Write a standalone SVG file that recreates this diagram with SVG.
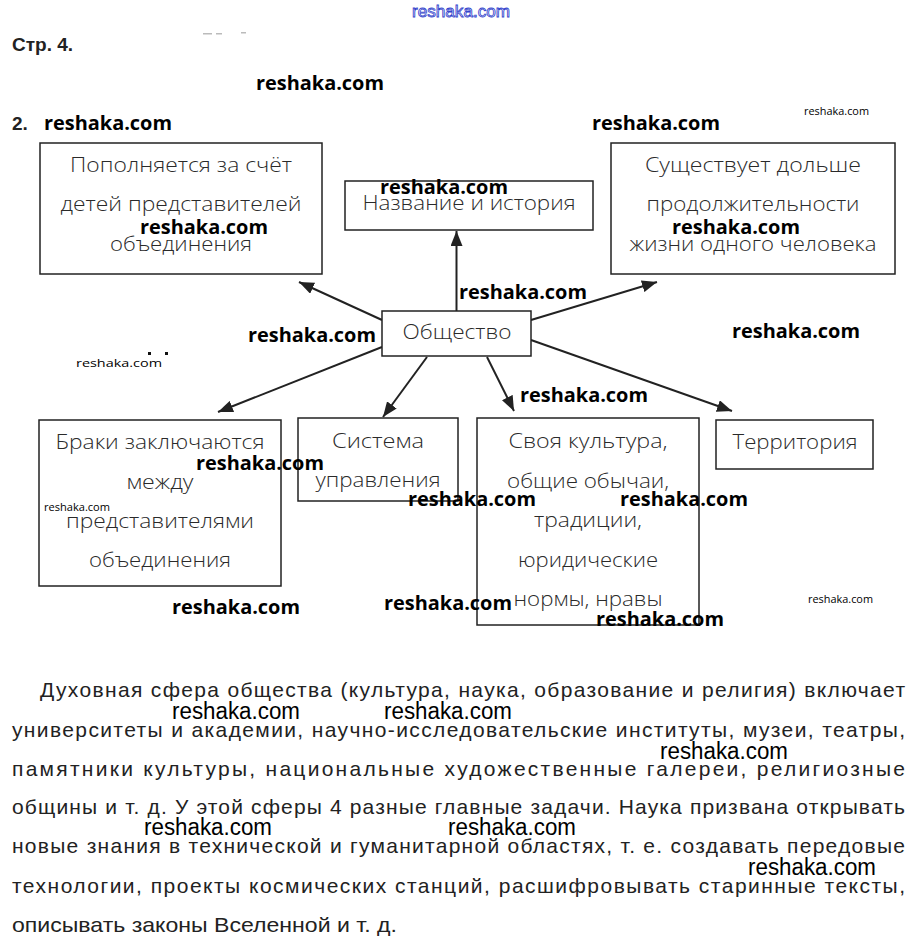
<svg xmlns="http://www.w3.org/2000/svg" width="920" height="952" viewBox="0 0 920 952">
<style>
.box{fill:#fff;stroke:#222;stroke-width:1.5}
.bt{font-family:"Open Sans","Noto Sans",sans-serif;font-weight:300;font-size:20px;fill:#2a2a2a;text-anchor:middle}
.wm{font-family:"Open Sans","Noto Sans",sans-serif;font-weight:700;font-size:20px;fill:#000}
.wms{font-family:"Open Sans","Noto Sans",sans-serif;font-weight:400;font-size:11px;fill:#000}
.wmp{font-family:"Liberation Sans",Arial,sans-serif;font-size:23px;fill:#000}
.p{font-family:"Liberation Sans",Arial,sans-serif;font-size:21px;fill:#222}
.h{font-family:"Liberation Sans",Arial,sans-serif;font-weight:700;font-size:19px;fill:#222}
.ln{stroke:#222;stroke-width:2;fill:none;marker-end:url(#ah)}
</style>
<defs>
<marker id="ah" markerUnits="userSpaceOnUse" markerWidth="16" markerHeight="12" refX="15" refY="6" orient="auto">
<path d="M0,0 L15,6 L0,12 z" fill="#222"/>
</marker>
</defs>
<rect width="920" height="952" fill="#fff"/>
<text x="412" y="17" font-family="Liberation Sans,Arial,sans-serif" font-size="16" fill="#fff" stroke="#3344cc" stroke-width="0.8" textLength="98" lengthAdjust="spacingAndGlyphs">reshaka.com</text>
<text class="h" x="12" y="51">Стр. 4.</text>
<text class="h" x="12" y="130">2.</text>
<g fill="#bbb">
<rect x="203" y="33" width="9" height="1.5"/>
<rect x="216" y="33" width="6" height="1.5"/>
<rect x="241" y="32" width="5" height="1.5"/>
</g>
<g fill="#111">
<rect x="148" y="352" width="3" height="3"/>
<rect x="165" y="352" width="3" height="3"/>
</g>

<g id="connectors">
<line class="ln" x1="382" y1="320" x2="299" y2="282"/>
<line class="ln" x1="456.5" y1="311" x2="456.5" y2="231"/>
<line class="ln" x1="531" y1="320" x2="657" y2="282"/>
<line class="ln" x1="382" y1="347" x2="218" y2="412"/>
<line class="ln" x1="427" y1="357" x2="383" y2="417"/>
<line class="ln" x1="487" y1="357" x2="514" y2="411"/>
<line class="ln" x1="531" y1="340" x2="732" y2="411"/>
</g>

<g id="node-popolnyaetsya">
<rect class="box" x="40" y="143" width="282" height="131"/>
<text class="bt" x="181" y="172" textLength="222" lengthAdjust="spacingAndGlyphs">Пополняется за счёт</text>
<text class="bt" x="181" y="211" textLength="241" lengthAdjust="spacingAndGlyphs">детей представителей</text>
<text class="bt" x="181" y="251" textLength="142" lengthAdjust="spacingAndGlyphs">объединения</text>
</g>
<g id="node-nazvanie">
<rect class="box" x="345" y="181" width="248" height="49"/>
<text class="bt" x="469" y="210" textLength="213" lengthAdjust="spacingAndGlyphs">Название и история</text>
</g>
<g id="node-sushchestvuet">
<rect class="box" x="611" y="143" width="284" height="131"/>
<text class="bt" x="753" y="172" textLength="216" lengthAdjust="spacingAndGlyphs">Существует дольше</text>
<text class="bt" x="753" y="211" textLength="213" lengthAdjust="spacingAndGlyphs">продолжительности</text>
<text class="bt" x="753" y="251" textLength="247" lengthAdjust="spacingAndGlyphs">жизни одного человека</text>
</g>
<g id="node-obshchestvo">
<rect class="box" x="382" y="311" width="149" height="45"/>
<text class="bt" x="457" y="339" textLength="109" lengthAdjust="spacingAndGlyphs">Общество</text>
</g>
<g id="node-braki">
<rect class="box" x="39" y="420" width="242" height="166"/>
<text class="bt" x="160" y="449" textLength="209" lengthAdjust="spacingAndGlyphs">Браки заключаются</text>
<text class="bt" x="160" y="489" textLength="67" lengthAdjust="spacingAndGlyphs">между</text>
<text class="bt" x="160" y="528" textLength="188" lengthAdjust="spacingAndGlyphs">представителями</text>
<text class="bt" x="160" y="567" textLength="142" lengthAdjust="spacingAndGlyphs">объединения</text>
</g>
<g id="node-sistema">
<rect class="box" x="298" y="418" width="160" height="83"/>
<text class="bt" x="378" y="448" textLength="92" lengthAdjust="spacingAndGlyphs">Система</text>
<text class="bt" x="378" y="487" textLength="125" lengthAdjust="spacingAndGlyphs">управления</text>
</g>
<g id="node-kultura">
<rect class="box" x="477" y="418" width="222" height="207"/>
<text class="bt" x="588" y="448" textLength="159" lengthAdjust="spacingAndGlyphs">Своя культура,</text>
<text class="bt" x="588" y="488" textLength="162" lengthAdjust="spacingAndGlyphs">общие обычаи,</text>
<text class="bt" x="588" y="527" textLength="108" lengthAdjust="spacingAndGlyphs">традиции,</text>
<text class="bt" x="588" y="567" textLength="140" lengthAdjust="spacingAndGlyphs">юридические</text>
<text class="bt" x="588" y="606" textLength="149" lengthAdjust="spacingAndGlyphs">нормы, нравы</text>
</g>
<g id="node-territoriya">
<rect class="box" x="716" y="420" width="157" height="49"/>
<text class="bt" x="795" y="449" textLength="125" lengthAdjust="spacingAndGlyphs">Территория</text>
</g>

<g id="paragraph">
<text class="p" x="40" y="697" textLength="865" lengthAdjust="spacing">Духовная сфера общества (культура, наука, образование и религия) включает</text>
<text class="p" x="12" y="737" textLength="893" lengthAdjust="spacing">университеты и академии, научно-исследовательские институты, музеи, театры,</text>
<text class="p" x="12" y="776" textLength="893" lengthAdjust="spacing">памятники культуры, национальные художественные галереи, религиозные</text>
<text class="p" x="12" y="814" textLength="893" lengthAdjust="spacing">общины и т. д. У этой сферы 4 разные главные задачи. Наука призвана открывать</text>
<text class="p" x="12" y="853" textLength="893" lengthAdjust="spacing">новые знания в технической и гуманитарной областях, т. е. создавать передовые</text>
<text class="p" x="12" y="893" textLength="893" lengthAdjust="spacing">технологии, проекты космических станций, расшифровывать старинные тексты,</text>
<text class="p" x="12" y="932" textLength="385" lengthAdjust="spacingAndGlyphs">описывать законы Вселенной и т. д.</text>
</g>

<g id="watermarks">
<text class="wm" x="256" y="90" textLength="128" lengthAdjust="spacingAndGlyphs">reshaka.com</text>
<text class="wm" x="44" y="130" textLength="128" lengthAdjust="spacingAndGlyphs">reshaka.com</text>
<text class="wm" x="592" y="130" textLength="128" lengthAdjust="spacingAndGlyphs">reshaka.com</text>
<text class="wms" x="804" y="115" textLength="65" lengthAdjust="spacingAndGlyphs">reshaka.com</text>
<text class="wm" x="380" y="194" textLength="128" lengthAdjust="spacingAndGlyphs">reshaka.com</text>
<text class="wm" x="140" y="234" textLength="128" lengthAdjust="spacingAndGlyphs">reshaka.com</text>
<text class="wm" x="672" y="234" textLength="128" lengthAdjust="spacingAndGlyphs">reshaka.com</text>
<text class="wm" x="459" y="299" textLength="128" lengthAdjust="spacingAndGlyphs">reshaka.com</text>
<text class="wm" x="248" y="342" textLength="128" lengthAdjust="spacingAndGlyphs">reshaka.com</text>
<text class="wm" x="732" y="338" textLength="128" lengthAdjust="spacingAndGlyphs">reshaka.com</text>
<text class="wms" x="76" y="367" textLength="86" lengthAdjust="spacingAndGlyphs">reshaka.com</text>
<text class="wm" x="520" y="402" textLength="128" lengthAdjust="spacingAndGlyphs">reshaka.com</text>
<text class="wm" x="196" y="470" textLength="128" lengthAdjust="spacingAndGlyphs">reshaka.com</text>
<text class="wms" x="44" y="511" textLength="66" lengthAdjust="spacingAndGlyphs">reshaka.com</text>
<text class="wm" x="408" y="506" textLength="128" lengthAdjust="spacingAndGlyphs">reshaka.com</text>
<text class="wm" x="620" y="506" textLength="128" lengthAdjust="spacingAndGlyphs">reshaka.com</text>
<text class="wm" x="172" y="614" textLength="128" lengthAdjust="spacingAndGlyphs">reshaka.com</text>
<text class="wm" x="384" y="610" textLength="128" lengthAdjust="spacingAndGlyphs">reshaka.com</text>
<text class="wms" x="808" y="603" textLength="65" lengthAdjust="spacingAndGlyphs">reshaka.com</text>
<text class="wm" x="596" y="626" textLength="128" lengthAdjust="spacingAndGlyphs">reshaka.com</text>
<text class="wmp" x="172" y="719" textLength="128" lengthAdjust="spacingAndGlyphs">reshaka.com</text>
<text class="wmp" x="384" y="719" textLength="128" lengthAdjust="spacingAndGlyphs">reshaka.com</text>
<text class="wmp" x="660" y="759" textLength="128" lengthAdjust="spacingAndGlyphs">reshaka.com</text>
<text class="wmp" x="144" y="835" textLength="128" lengthAdjust="spacingAndGlyphs">reshaka.com</text>
<text class="wmp" x="448" y="835" textLength="128" lengthAdjust="spacingAndGlyphs">reshaka.com</text>
<text class="wmp" x="748" y="875" textLength="128" lengthAdjust="spacingAndGlyphs">reshaka.com</text>
</g>
</svg>
